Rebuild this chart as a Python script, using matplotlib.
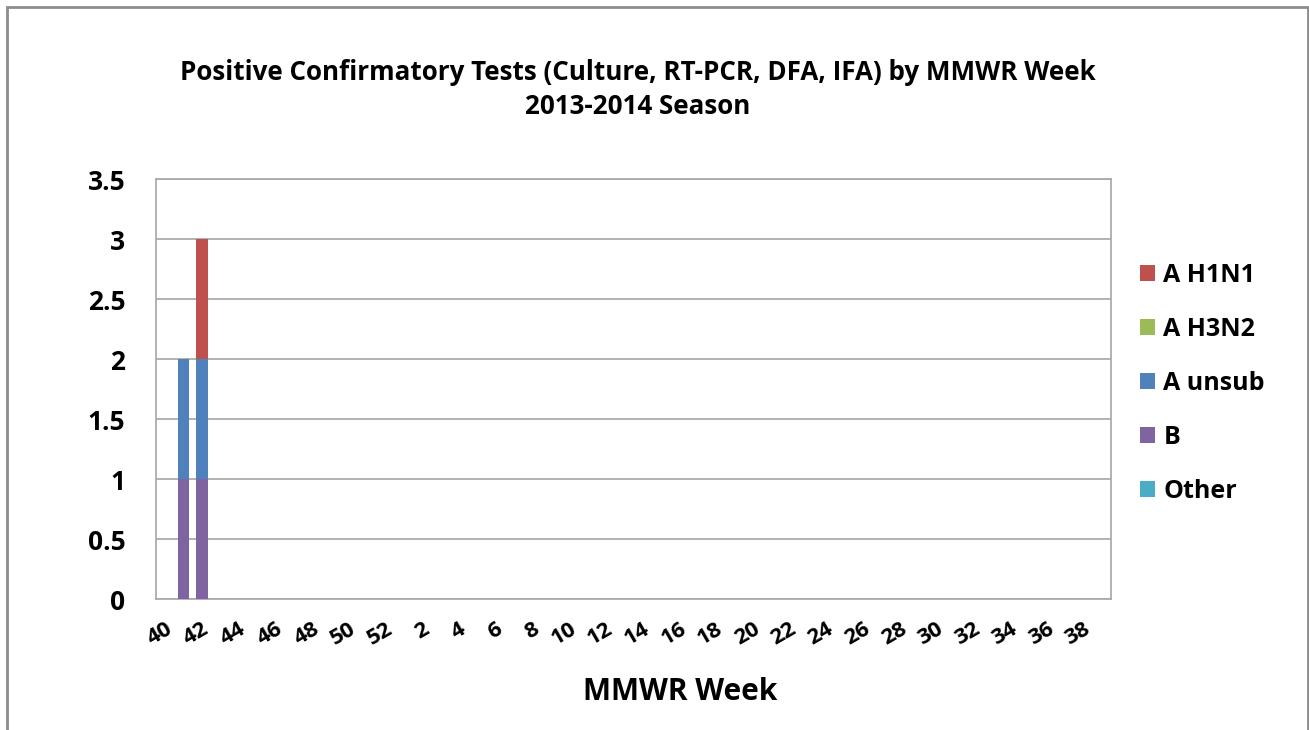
import matplotlib
matplotlib.use("Agg")
import matplotlib.pyplot as plt
from matplotlib.patches import Rectangle
import numpy as np

weeks = list(range(40, 53)) + list(range(1, 40))
a_h1n1 = [0] * 52
a_h3n2 = [0] * 52
a_unsub = [0] * 52
b_vals = [0] * 52
other = [0] * 52
a_h1n1[2] = 1
a_unsub[1] = 1
a_unsub[2] = 1
b_vals[1] = 1
b_vals[2] = 1

series = [("Other", other, "#4BACC6"),
          ("B", b_vals, "#8064A2"),
          ("A unsub", a_unsub, "#4F81BD"),
          ("A H3N2", a_h3n2, "#9BBB59"),
          ("A H1N1", a_h1n1, "#C0504D")]

FAM = ['Open Sans', 'DejaVu Sans']
plt.rcParams['font.family'] = FAM
W, H = 1309, 730
fig = plt.figure(figsize=(W / 100, H / 100), dpi=100)
fig.patches.append(Rectangle((7 / W, -0.1), (1308 - 7) / W, (H - 7) / H + 0.1,
                             transform=fig.transFigure, fill=False,
                             edgecolor="#8C8C8C", linewidth=2))

ax = fig.add_axes([156 / W, 1 - 599 / H, (1111 - 156) / W, (599 - 179) / H])
x = np.arange(len(weeks))
bottom = np.zeros(len(weeks))
handles = {}
for name, vals, col in series:
    v = np.array(vals, dtype=float)
    h = ax.bar(x, v, width=0.63, bottom=bottom, color=col, label=name, zorder=3)
    handles[name] = h
    bottom += v

ax.set_xlim(-0.5, len(weeks) - 0.5)
ax.set_ylim(0, 3.5)
yt = np.arange(0, 3.51, 0.5)
ax.set_yticks(yt)
ax.set_yticklabels([f"{t:g}" for t in yt], fontsize=19, fontweight="bold")
ax.yaxis.grid(True, color="#A6A6A6", linewidth=1.2, zorder=0)
ax.set_axisbelow(True)
for s in ax.spines.values():
    s.set_color("#A6A6A6")
    s.set_linewidth(1.2)
ax.tick_params(axis="y", length=0, pad=22)
ax.tick_params(axis="x", length=0, pad=14)
ax.set_xticks(x[::2])
ax.set_xticklabels([str(w) for w in weeks[::2]], fontsize=16, fontweight="bold",
                   rotation=30, ha="right", va="top", rotation_mode="anchor")

order = ["A H1N1", "A H3N2", "A unsub", "B", "Other"]
leg = fig.legend([handles[n] for n in order], order, loc="upper left",
                 bbox_to_anchor=(1117 / W, 1 - 240 / H), frameon=False,
                 prop={"family": FAM, "weight": "bold", "size": 18},
                 handlelength=0.6, handleheight=0.6, handletextpad=0.35,
                 labelspacing=1.16)

fig.text(638 / W, 1 - 72 / H, "Positive Confirmatory Tests (Culture, RT-PCR, DFA, IFA) by MMWR Week",
         ha="center", va="center", fontsize=18.7, fontweight="bold")
fig.text(638 / W, 1 - 106 / H, "2013-2014 Season",
         ha="center", va="center", fontsize=18.7, fontweight="bold")
fig.text(680 / W, 1 - 692 / H, "MMWR Week", ha="center", va="center",
         fontsize=21.5, fontweight="bold")

fig.savefig("out.png", dpi=100, facecolor="white")
